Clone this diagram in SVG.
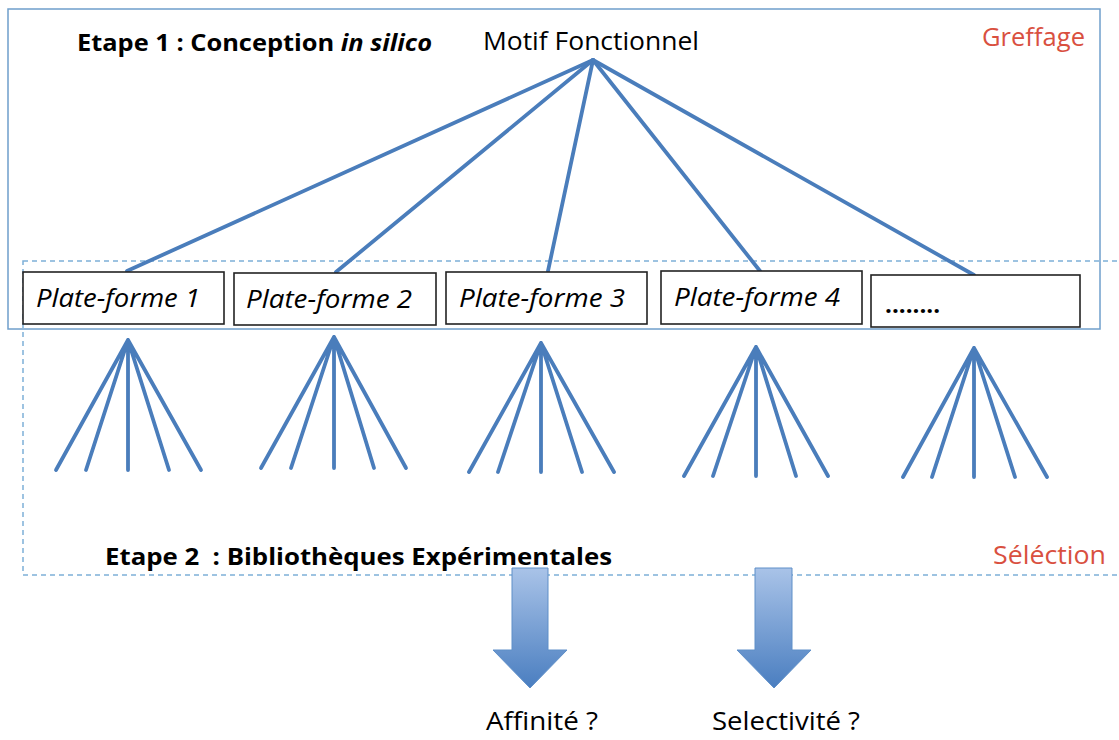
<svg xmlns="http://www.w3.org/2000/svg" width="1119" height="740" viewBox="0 0 1119 740">
<defs>
<linearGradient id="ag" x1="0" y1="0" x2="0" y2="1">
<stop offset="0" stop-color="#a9c3e8"/>
<stop offset="1" stop-color="#4a7ec0"/>
</linearGradient>
<style>
.frame{fill:none;stroke:#6f9fcb;stroke-width:1.5}
.dash{fill:none;stroke:#7db0d8;stroke-width:1.5;stroke-dasharray:5,4}
.box{fill:#fff;stroke:#222;stroke-width:1.6}
.ln{stroke:#4a7dbb;stroke-width:3.8;stroke-linecap:round;fill:none}
.t{font-family:"Open Sans","Liberation Sans",sans-serif;fill:#000}
.b{font-weight:bold;font-size:24px}
.pf{font-style:italic;font-size:26px}
.red{fill:#d9503f;font-size:26px}
.arr{fill:url(#ag);stroke:#5f8fc8;stroke-width:1}
</style>
</defs>
<rect width="1119" height="740" fill="#fff"/>
<rect class="frame" x="8" y="9" width="1092" height="320"/>
<rect class="dash" x="23" y="261" width="1110" height="314"/>
<g id="labels">
<text class="t b" x="77" y="51" textLength="355" lengthAdjust="spacingAndGlyphs">Etape 1 : Conception <tspan font-style="italic">in silico</tspan></text>
<text class="t red" x="982" y="46" textLength="103" lengthAdjust="spacingAndGlyphs">Greffage</text>
<text class="t b" x="105" y="565" xml:space="preserve" textLength="507" lengthAdjust="spacingAndGlyphs">Etape 2  : Bibliothèques Expérimentales</text>
<text class="t red" x="993" y="564" textLength="113" lengthAdjust="spacingAndGlyphs">Séléction</text>
</g>
<g id="connectors">
<line class="ln" x1="593" y1="60" x2="127" y2="271"/>
<line class="ln" x1="593" y1="60" x2="336" y2="272"/>
<line class="ln" x1="593" y1="60" x2="548" y2="271"/>
<line class="ln" x1="593" y1="60" x2="760" y2="271"/>
<line class="ln" x1="593" y1="60" x2="974" y2="275"/>
</g>
<g id="motif"><text class="t" x="483" y="50" font-size="26" textLength="216" lengthAdjust="spacingAndGlyphs">Motif Fonctionnel</text></g>
<g id="pf1"><rect class="box" x="23" y="272" width="201" height="52"/><text class="t pf" x="36" y="307" textLength="164" lengthAdjust="spacingAndGlyphs">Plate-forme 1</text></g>
<g id="pf2"><rect class="box" x="234" y="273" width="202" height="52"/><text class="t pf" x="246" y="308" textLength="166" lengthAdjust="spacingAndGlyphs">Plate-forme 2</text></g>
<g id="pf3"><rect class="box" x="446" y="272" width="201" height="52"/><text class="t pf" x="459" y="307" textLength="166" lengthAdjust="spacingAndGlyphs">Plate-forme 3</text></g>
<g id="pf4"><rect class="box" x="661" y="271" width="201" height="53"/><text class="t pf" x="674" y="306" textLength="166" lengthAdjust="spacingAndGlyphs">Plate-forme 4</text></g>
<g id="pf5"><rect class="box" x="871" y="275" width="209" height="52"/><text class="t" x="885" y="313" font-size="24" font-weight="bold" textLength="55" lengthAdjust="spacingAndGlyphs">........</text></g>
<g id="fans">
<g id="fan1"><path class="ln" d="M128 340L56 470M128 340L86 470M128 340V470M128 340L169 470M128 340L201 470"/></g>
<g id="fan2"><path class="ln" d="M334 337L261 468M334 337L291 468M334 337V468M334 337L374 468M334 337L406 468"/></g>
<g id="fan3"><path class="ln" d="M541 343L469 472M541 343L498 472M541 343V472M541 343L582 472M541 343L614 472"/></g>
<g id="fan4"><path class="ln" d="M756 347L684 476M756 347L713 476M756 347V476M756 347L796 476M756 347L828 476"/></g>
<g id="fan5"><path class="ln" d="M974 348L903 477M974 348L932 477M974 348V477M974 348L1015 477M974 348L1047 477"/></g>
</g>
<g id="arrow1"><path class="arr" d="M512 568H548V650H567L530 688L493 650H512Z"/><text class="t" x="486" y="730" font-size="26" textLength="112" lengthAdjust="spacingAndGlyphs">Affinité ?</text></g>
<g id="arrow2"><path class="arr" d="M755 568H792V650H811L774 688L737 650H755Z"/><text class="t" x="712" y="730" font-size="26" textLength="148" lengthAdjust="spacingAndGlyphs">Selectivité ?</text></g>
</svg>
